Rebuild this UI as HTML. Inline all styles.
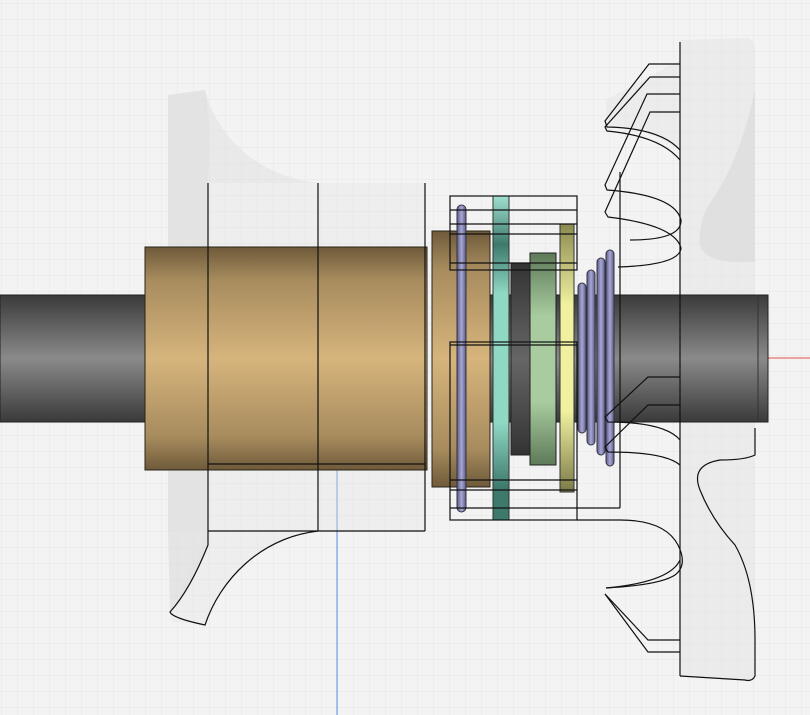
<!DOCTYPE html>
<html><head><meta charset="utf-8"><style>
html,body{margin:0;padding:0;background:#f3f3f3;}
svg{display:block;}
</style></head><body>
<svg width="810" height="715" viewBox="0 0 810 715" xmlns="http://www.w3.org/2000/svg">
<defs>
<pattern id="g" width="16" height="16" patternUnits="userSpaceOnUse" x="2" y="4">
<path d="M16 0V16M0 16H16" stroke="#e4e4e4" stroke-width="1" fill="none"/>
</pattern>
<linearGradient id="sh" x1="0" y1="0" x2="0" y2="1">
<stop offset="0" stop-color="#3a3a3a"/><stop offset="0.5" stop-color="#8a8a8a"/><stop offset="1" stop-color="#3a3a3a"/>
</linearGradient>
<linearGradient id="br" x1="0" y1="0" x2="0" y2="1">
<stop offset="0" stop-color="#6e5a3a"/><stop offset="0.15" stop-color="#a88c5e"/><stop offset="0.5" stop-color="#d6b47c"/><stop offset="0.85" stop-color="#a88c5e"/><stop offset="1" stop-color="#6e5a3a"/>
</linearGradient>
<linearGradient id="pu" x1="0" y1="0" x2="1" y2="0">
<stop offset="0" stop-color="#5a5a80"/><stop offset="0.5" stop-color="#a8a8d8"/><stop offset="1" stop-color="#5a5a80"/>
</linearGradient>
<linearGradient id="te" x1="0" y1="0" x2="0" y2="1">
<stop offset="0" stop-color="#a0e0d0"/><stop offset="0.15" stop-color="#3e7a6c"/><stop offset="0.3" stop-color="#8fd8c4"/><stop offset="0.7" stop-color="#8fd8c4"/><stop offset="0.9" stop-color="#3e7a6c"/><stop offset="1" stop-color="#3e7a6c"/>
</linearGradient>
<linearGradient id="gr" x1="0" y1="0" x2="0" y2="1">
<stop offset="0" stop-color="#5e7a58"/><stop offset="0.3" stop-color="#a8cca0"/><stop offset="0.7" stop-color="#a8cca0"/><stop offset="1" stop-color="#5e7a58"/>
</linearGradient>
<linearGradient id="ye" x1="0" y1="0" x2="0" y2="1">
<stop offset="0" stop-color="#8a8a50"/><stop offset="0.3" stop-color="#f0f0a0"/><stop offset="0.7" stop-color="#f0f0a0"/><stop offset="1" stop-color="#7a7a48"/>
</linearGradient>
<linearGradient id="dk" x1="0" y1="0" x2="0" y2="1">
<stop offset="0" stop-color="#333"/><stop offset="0.5" stop-color="#666"/><stop offset="1" stop-color="#333"/>
</linearGradient>
</defs>
<rect width="810" height="715" fill="#f3f3f3"/>
<rect width="810" height="715" fill="url(#g)"/>
<line x1="337" y1="470" x2="337" y2="715" stroke="#5a90e0" stroke-width="1"/>
<line x1="768" y1="358" x2="810" y2="358" stroke="#e05050" stroke-width="1"/>

<!-- left housing translucent -->
<path d="M168 95 L205 90 C215 130 250 175 318 183 L425 183 L425 531 L318 531 C260 540 220 580 205 625 L172 622 Q168 615 175 605 L208 531 L168 531 Z" fill="#e4e4e4" fill-opacity="0.35"/>
<path d="M168 95 L205 90 C212 130 208 170 208 183 L208 545 Q190 590 170 612 L168 531 Z" fill="#dcdcdc" fill-opacity="0.6"/>
<path d="M205 90 C215 130 250 175 318 183 L208 183 Z" fill="#e0e0e0" fill-opacity="0.4"/>
<!-- right housing translucent -->
<path d="M680 40 L748 38 Q755 40 755 50 L755 680 L680 676 Z" fill="#e6e6e6" fill-opacity="0.65"/>
<path d="M755 90 Q740 160 712 200 Q698 220 700 245 Q705 262 740 262 L755 262 Z" fill="#d6d6d6" fill-opacity="0.5"/>
<path d="M606 100 L680 60 L680 150 Q640 125 606 125 Z" fill="#e0e0e0" fill-opacity="0.4"/>

<rect x="0" y="295" width="148" height="127" fill="url(#sh)" stroke="#222" stroke-width="1"/>
<rect x="490" y="295" width="278" height="127" fill="url(#sh)" stroke="#222" stroke-width="1"/>
<line x1="758" y1="295" x2="758" y2="422" stroke="#333"/>

<rect x="145" y="247" width="282" height="223" fill="url(#br)" stroke="#2a2418" stroke-width="1"/>
<rect x="432" y="231" width="58" height="256" fill="url(#br)" stroke="#2a2418" stroke-width="1"/>
<g stroke="#111" stroke-width="1.2" fill="none">
<line x1="208" y1="183" x2="208" y2="531"/>
<line x1="318" y1="183" x2="318" y2="531"/>
<line x1="425" y1="183" x2="425" y2="531"/>
<line x1="208" y1="464" x2="425" y2="464"/>
<line x1="208" y1="531" x2="425" y2="531"/>
<path d="M208 531 L208 545 Q190 590 170 612 Q172 618 205 625 C220 580 260 538 318 531"/>
</g>

<rect x="511" y="263" width="19" height="192" fill="url(#dk)" stroke="#222"/>
<rect x="530" y="253" width="26" height="212" fill="url(#gr)" stroke="#222"/>
<rect x="560" y="224" width="14" height="268" fill="url(#ye)" stroke="#333"/>
<rect x="493" y="196" width="16" height="324" fill="url(#te)" stroke="#333"/>
<rect x="457" y="205" width="9" height="307" rx="4.5" fill="url(#pu)" stroke="#334"/>
<rect x="578" y="283" width="8" height="150" rx="4" fill="url(#pu)" stroke="#334"/>
<rect x="587" y="270" width="8" height="175" rx="4" fill="url(#pu)" stroke="#334"/>
<rect x="597" y="258" width="8" height="197" rx="4" fill="url(#pu)" stroke="#334"/>
<rect x="606" y="250" width="8" height="216" rx="4" fill="url(#pu)" stroke="#334"/>

<g stroke="#111" stroke-width="1.2" fill="none">
<rect x="450" y="196" width="127" height="74"/>
<line x1="450" y1="210" x2="577" y2="210"/>
<line x1="450" y1="224" x2="577" y2="224"/>
<line x1="450" y1="234" x2="577" y2="234"/>
<line x1="450" y1="263" x2="577" y2="263"/>
<rect x="450" y="342" width="127" height="178"/>
<line x1="450" y1="345" x2="577" y2="345"/>
<line x1="450" y1="480" x2="577" y2="480"/>
<line x1="450" y1="490" x2="577" y2="490"/>
<line x1="450" y1="508" x2="620" y2="508"/>
<line x1="620" y1="172" x2="620" y2="508"/>
<path d="M577 520 L620 520 Q665 520 678 545 Q688 565 675 575 Q660 585 606 588"/>
<line x1="680" y1="42" x2="680" y2="676"/>
<path d="M755 428 L755 455 Q745 460 720 460 Q690 465 700 490 Q712 520 735 545 Q755 580 755 640 L755 676 Q752 682 745 680 L680 676"/>
<path d="M680 64 L649 64 L605 121 L607 127 Q660 128 680 150"/>
<path d="M680 77 L650 77 L605 127 L607 131 Q660 136 680 160"/>
<path d="M680 94 L647 94 L605 185 L607 190 Q675 195 681 220 Q682 240 630 240"/>
<path d="M680 112 L650 112 L605 212 L608 217 Q675 225 681 248 Q680 265 618 267"/>
<path d="M680 377 L648 377 L605 417 L608 422 Q665 422 680 440"/>
<path d="M680 405 L648 405 L605 447 L608 452 Q665 452 680 465"/>
<path d="M605 594 L648 640 L680 640"/>
<path d="M605 594 L648 652 L680 652"/>
<path d="M606 588 Q670 582 680 560"/>
</g>
</svg>
</body></html>
